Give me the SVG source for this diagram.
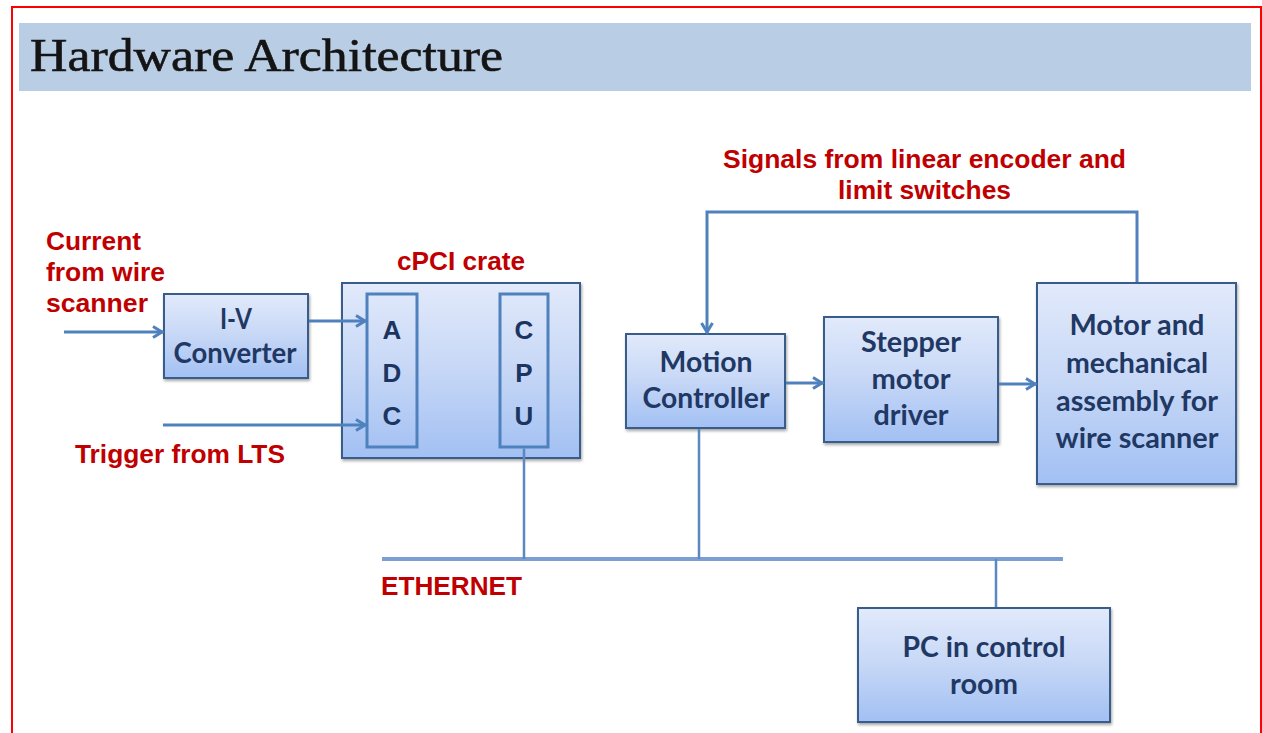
<svg xmlns="http://www.w3.org/2000/svg" width="1262" height="733" viewBox="0 0 1262 733">
<style>
.box{fill:url(#boxGrad);stroke:#385d8a;stroke-width:2;filter:url(#shadow)}
.inner{fill:none;stroke:#4f81bd;stroke-width:3}
.bt{font-family:Lato,"Open Sans",sans-serif;font-weight:bold;font-size:29px;fill:#1f3864;text-anchor:middle}
.lt{font-family:"Liberation Sans",Arial,sans-serif;font-weight:bold;font-size:26px;fill:#1b3560;text-anchor:middle}
.rt{font-family:"Liberation Sans",Arial,sans-serif;font-weight:bold;font-size:25px;fill:#c00000}
.conn{fill:none;stroke:#4f81bd;stroke-width:3}
.thin{fill:none;stroke:#5b87c2;stroke-width:2.5}
</style>
<defs>
<linearGradient id="boxGrad" x1="0" y1="0" x2="0" y2="1">
<stop offset="0" stop-color="#e2eafb"/>
<stop offset="0.5" stop-color="#c6d7f6"/>
<stop offset="1" stop-color="#a2c0f3"/>
</linearGradient>
<filter id="shadow" x="-10%" y="-10%" width="125%" height="130%">
<feDropShadow dx="1" dy="2" stdDeviation="1.5" flood-color="#000" flood-opacity="0.35"/>
</filter>
<marker id="arrow" markerUnits="userSpaceOnUse" markerWidth="16" markerHeight="16" refX="12" refY="7" orient="auto">
<path d="M2,1.5 L11,7 L2,12.5" fill="none" stroke="#4f81bd" stroke-width="3"/>
</marker>
</defs>
<rect x="0" y="0" width="1262" height="733" fill="#ffffff"/>
<rect x="12" y="7" width="1249" height="740" fill="none" stroke="#ff0000" stroke-width="2"/>
<g id="title">
<rect x="19" y="23" width="1232" height="68" fill="#b9cde5"/>
<text x="30" y="71" font-family="'Liberation Serif','Times New Roman',serif" font-size="46" fill="#141414" stroke="#141414" stroke-width="0.6" textLength="473" lengthAdjust="spacingAndGlyphs">Hardware Architecture</text>
</g>
<g id="labels">
<text class="rt" x="46" y="250" textLength="95" lengthAdjust="spacingAndGlyphs">Current</text>
<text class="rt" x="46" y="281" textLength="119" lengthAdjust="spacingAndGlyphs">from wire</text>
<text class="rt" x="46" y="312" textLength="102" lengthAdjust="spacingAndGlyphs">scanner</text>
<text class="rt" x="75" y="463" textLength="210" lengthAdjust="spacingAndGlyphs">Trigger from LTS</text>
<text class="rt" x="397" y="270" textLength="128" lengthAdjust="spacingAndGlyphs">cPCI crate</text>
<text class="rt" x="723" y="168" textLength="403" lengthAdjust="spacingAndGlyphs">Signals from linear encoder and</text>
<text class="rt" x="838" y="199" textLength="173" lengthAdjust="spacingAndGlyphs">limit switches</text>
<text class="rt" x="381" y="595" textLength="141" lengthAdjust="spacingAndGlyphs">ETHERNET</text>
</g>
<g id="iv-converter">
<rect class="box" x="164" y="294" width="144" height="84"/>
<text class="bt" x="236" y="329" textLength="32" lengthAdjust="spacingAndGlyphs">I-V</text>
<text class="bt" x="235" y="363" textLength="123" lengthAdjust="spacingAndGlyphs">Converter</text>
</g>
<g id="cpci-crate">
<rect class="box" x="342" y="283" width="238" height="175"/>
<g id="adc">
<rect class="inner" x="367" y="294" width="50" height="153"/>
<text class="lt" x="392" y="339">A</text>
<text class="lt" x="392" y="382">D</text>
<text class="lt" x="392" y="425">C</text>
</g>
<g id="cpu">
<rect class="inner" x="500" y="294" width="48" height="153"/>
<text class="lt" x="524" y="339">C</text>
<text class="lt" x="524" y="382">P</text>
<text class="lt" x="524" y="425">U</text>
</g>
</g>
<g id="motion-controller">
<rect class="box" x="626" y="334" width="159" height="94"/>
<text class="bt" x="706" y="372" textLength="93" lengthAdjust="spacingAndGlyphs">Motion</text>
<text class="bt" x="706" y="408" textLength="127" lengthAdjust="spacingAndGlyphs">Controller</text>
</g>
<g id="stepper-driver">
<rect class="box" x="824" y="317" width="174" height="125"/>
<text class="bt" x="911" y="352" textLength="100" lengthAdjust="spacingAndGlyphs">Stepper</text>
<text class="bt" x="911" y="389" textLength="79" lengthAdjust="spacingAndGlyphs">motor</text>
<text class="bt" x="911" y="425" textLength="75" lengthAdjust="spacingAndGlyphs">driver</text>
</g>
<g id="motor-assembly">
<rect class="box" x="1037" y="283" width="199" height="201"/>
<text class="bt" x="1137" y="335" textLength="135" lengthAdjust="spacingAndGlyphs">Motor and</text>
<text class="bt" x="1137" y="373" textLength="142" lengthAdjust="spacingAndGlyphs">mechanical</text>
<text class="bt" x="1137" y="411" textLength="162" lengthAdjust="spacingAndGlyphs">assembly for</text>
<text class="bt" x="1137" y="448" textLength="163" lengthAdjust="spacingAndGlyphs">wire scanner</text>
</g>
<g id="pc-control-room">
<rect class="box" x="858" y="608" width="252" height="114"/>
<text class="bt" x="984" y="657" textLength="163" lengthAdjust="spacingAndGlyphs">PC in control</text>
<text class="bt" x="984" y="694" textLength="68" lengthAdjust="spacingAndGlyphs">room</text>
</g>
<g id="connectors">
<line class="conn" x1="64" y1="332" x2="163" y2="332" marker-end="url(#arrow)"/>
<line class="conn" x1="309" y1="321" x2="366" y2="321" marker-end="url(#arrow)"/>
<line class="conn" x1="163" y1="425" x2="366" y2="425" marker-end="url(#arrow)"/>
<line class="conn" x1="786" y1="383" x2="823" y2="383" marker-end="url(#arrow)"/>
<line class="conn" x1="999" y1="384" x2="1036" y2="384" marker-end="url(#arrow)"/>
<path class="conn" d="M1137,282 V212 H707 V333" marker-end="url(#arrow)"/>
<line x1="382" y1="559" x2="1063" y2="559" stroke="#7b9fd2" stroke-width="4"/>
<line class="thin" x1="524" y1="448.5" x2="524" y2="559"/>
<line class="thin" x1="699" y1="429" x2="699" y2="559"/>
<line class="thin" x1="996" y1="559" x2="996" y2="607"/>
</g>
</svg>
